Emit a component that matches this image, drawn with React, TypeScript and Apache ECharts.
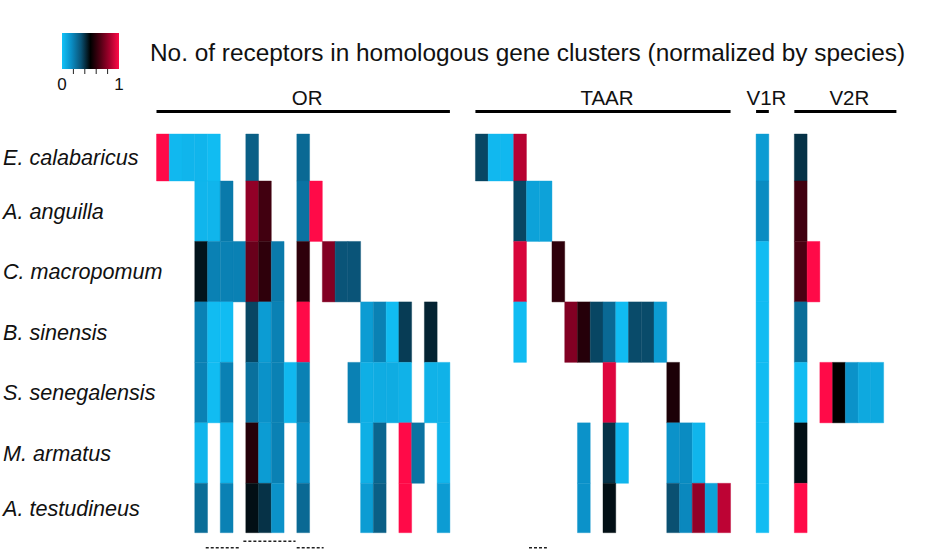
import React, { useEffect, useRef } from 'react';
import * as echarts from 'echarts';

// ---------- data ----------
const species = [
  'E. calabaricus',
  'A. anguilla',
  'C. macropomum',
  'B. sinensis',
  'S. senegalensis',
  'M. armatus',
  'A. testudineus',
];

// [cluster column index, normalized number of receptors]
const eCalabaricus = [[0, 1], [1, 0.03], [2, 0.04], [3, 0.04], [4, 0.02], [7, 0.3], [11, 0.27], [25, 0.36], [26, 0.03], [27, 0.03], [28, 0.87], [47, 0.12], [50, 0.4]];
const aAnguilla = [[3, 0.04], [4, 0.04], [5, 0.22], [7, 0.8], [8, 0.64], [11, 0.24], [12, 1], [28, 0.36], [29, 0.1], [30, 0.1], [47, 0.17], [50, 0.64]];
const cMacropomum = [[3, 0.46], [4, 0.2], [5, 0.2], [6, 0.2], [7, 0.72], [8, 0.6], [9, 0.22], [11, 0.6], [13, 0.77], [14, 0.33], [15, 0.33], [28, 0.93], [31, 0.6], [47, 0.02], [50, 0.66], [51, 1]];
const bSinensis = [[3, 0.2], [4, 0.02], [5, 0.02], [7, 0.36], [8, 0.12], [9, 0.2], [11, 1], [16, 0.12], [17, 0.2], [18, 0.02], [19, 0.38], [21, 0.43], [28, 0.02], [32, 0.77], [33, 0.58], [34, 0.36], [35, 0.27], [36, 0.02], [37, 0.35], [38, 0.35], [39, 0.12], [47, 0.02], [50, 0.26]];
const sSenegalensis = [[3, 0.2], [4, 0.02], [5, 0.2], [7, 0.25], [8, 0.15], [9, 0.2], [10, 0.03], [11, 0.2], [15, 0.2], [16, 0.06], [17, 0.07], [18, 0.07], [19, 0.05], [21, 0.05], [22, 0.05], [35, 0.94], [40, 0.56], [47, 0.02], [50, 0.02], [52, 1], [53, 0.5], [54, 0.15], [55, 0.08], [56, 0.08]];
const mArmatus = [[3, 0.04], [5, 0.04], [7, 0.58], [8, 0.12], [9, 0.2], [11, 0.15], [16, 0.06], [17, 0.28], [19, 1], [20, 0.24], [22, 0.04], [33, 0.15], [35, 0.4], [36, 0.04], [40, 0.15], [41, 0.17], [42, 0.04], [47, 0.02], [50, 0.47]];
const aTestudineus = [[3, 0.26], [5, 0.2], [7, 0.47], [8, 0.4], [9, 0.15], [11, 0.27], [16, 0.12], [17, 0.3], [19, 1], [22, 0.12], [33, 0.15], [35, 0.47], [40, 0.34], [41, 0.18], [42, 0.8], [43, 0.1], [44, 0.88], [47, 0.02], [50, 1]];

const speciesCells = [eCalabaricus, aAnguilla, cMacropomum, bSinensis, sSenegalensis, mArmatus, aTestudineus];

const clusterCount = 58;

const groupNames = ['OR', 'TAAR', 'V1R', 'V2R'];
const groupStart = [0, 25, 47, 50];
const groupEnd = [23, 45, 48, 58];

// dashed footnote marks below the map: [from column, to column, level]
const footMarks = [[3.86, 6.6, 1], [6.81, 10.9, 0], [10.99, 13.1, 1], [29.2, 30.6, 1]];

const colorScale = ['#12c2f8', '#0a8dc4', '#0a5376', '#000000', '#4d0013', '#a3002c', '#ff0a48'];
const colorbarTicks = [0.2, 0.4, 0.6, 0.8];
const colorbarLabels = ['0', '1'];

const titleText = 'No. of receptors in homologous gene clusters (normalized by species)';

// ---------- layout ----------
const Y_MIN = -0.277;
const Y_MAX = 6.317;
const FONT = '"Liberation Sans", Arial, Helvetica, sans-serif';

export default function App() {
  const ref = useRef<HTMLDivElement>(null);

  useEffect(() => {
    const chart = echarts.init(ref.current as HTMLDivElement, null, { renderer: 'svg' });

    const data: number[][] = [];
    speciesCells.forEach((cells, r) => {
      cells.forEach(([c, v]) => data.push([c, r, v]));
    });

    const labelPos = species.map((_, i) => (Math.max(i - 0.5, Y_MIN) + Math.min(i + 0.5, Y_MAX)) / 2);

    const renderItem = (params: any, api: any) => {
      const c = api.value(0);
      const r = api.value(1);
      const p0 = api.coord([c, r - 0.5]);
      const p1 = api.coord([c + 1, r + 0.5]);
      const cs = params.coordSys;
      const rect = echarts.graphic.clipRectByRect(
        {
          x: Math.min(p0[0], p1[0]),
          y: Math.min(p0[1], p1[1]),
          width: Math.abs(p1[0] - p0[0]),
          height: Math.abs(p1[1] - p0[1]),
        },
        { x: cs.x, y: cs.y, width: cs.width, height: cs.height }
      );
      if (!rect) return null;
      const color = api.visual('color');
      return {
        type: 'rect',
        shape: rect,
        style: { fill: color, stroke: color, lineWidth: 0.4 },
      };
    };

    chart.setOption({
      animation: false,
      backgroundColor: '#ffffff',
      grid: { left: 155.7, right: 38.6, top: 134, bottom: 17.3, containLabel: false },
      xAxis: { type: 'value', min: 0, max: clusterCount, show: false },
      yAxis: {
        type: 'value',
        min: Y_MIN,
        max: Y_MAX,
        inverse: true,
        axisLine: { show: false },
        axisTick: { show: false },
        splitLine: { show: false },
        axisLabel: {
          customValues: labelPos,
          formatter: (v: number) => species[Math.round(v)] ?? '',
          align: 'left',
          margin: 153.5,
          fontSize: 21.6,
          fontStyle: 'italic',
          fontFamily: FONT,
          color: '#111111',
        },
      },
      visualMap: {
        type: 'continuous',
        show: false,
        min: 0,
        max: 1,
        dimension: 2,
        seriesIndex: 0,
        inRange: { color: colorScale },
      },
      series: [
        {
          type: 'custom',
          renderItem,
          data,
          encode: { x: 0, y: 1 },
        },
      ],
    });

    const px = (x: number) => chart.convertToPixel({ xAxisIndex: 0 }, x) as number;
    const yBottom = chart.convertToPixel({ yAxisIndex: 0 }, Y_MAX) as number;

    const graphics: any[] = [];

    // colorbar
    const cbX = 62, cbY = 33, cbW = 57, cbH = 36;
    graphics.push({
      type: 'rect',
      shape: { x: cbX, y: cbY, width: cbW, height: cbH },
      style: {
        fill: new echarts.graphic.LinearGradient(
          0, 0, 1, 0,
          colorScale.map((c, i) => ({ offset: i / (colorScale.length - 1), color: c }))
        ),
      },
    });
    colorbarTicks.forEach((t) => {
      graphics.push({
        type: 'line',
        shape: { x1: cbX + t * cbW, y1: cbY + cbH, x2: cbX + t * cbW, y2: cbY + cbH + 5 },
        style: { stroke: '#222', lineWidth: 1 },
      });
    });
    colorbarLabels.forEach((lab, i) => {
      graphics.push({
        type: 'text',
        style: {
          text: lab,
          x: cbX + i * cbW,
          y: 84,
          align: 'center',
          verticalAlign: 'middle',
          fontSize: 17,
          fontFamily: FONT,
          fill: '#111',
        },
      });
    });

    // title
    graphics.push({
      type: 'text',
      style: {
        text: titleText,
        x: 150,
        y: 52,
        align: 'left',
        verticalAlign: 'middle',
        fontSize: 24.4,
        fontFamily: FONT,
        fill: '#111',
      },
    });

    // group headers
    groupNames.forEach((name, i) => {
      const x1 = px(groupStart[i]);
      const x2 = px(groupEnd[i]);
      graphics.push({
        type: 'line',
        shape: { x1, y1: 111.5, x2, y2: 111.5 },
        style: { stroke: '#000', lineWidth: 3 },
      });
      graphics.push({
        type: 'text',
        style: {
          text: name,
          x: (x1 + x2) / 2 + 4,
          y: 97,
          align: 'center',
          verticalAlign: 'middle',
          fontSize: 20.5,
          fontFamily: FONT,
          fill: '#111',
        },
      });
    });

    // dashed foot marks
    footMarks.forEach(([a, b, level]) => {
      const y = yBottom + (level ? 15 : 8.5);
      graphics.push({
        type: 'line',
        shape: { x1: px(a), y1: y, x2: px(b), y2: y },
        style: { stroke: '#222', lineWidth: 1.5, lineDash: [3, 2] },
      });
    });

    chart.setOption({ graphic: graphics });

    return () => chart.dispose();
  }, []);

  return (
    <div
      ref={ref}
      style={{ position: 'absolute', left: 0, top: 0, width: 935, height: 550 }}
    />
  );
}
